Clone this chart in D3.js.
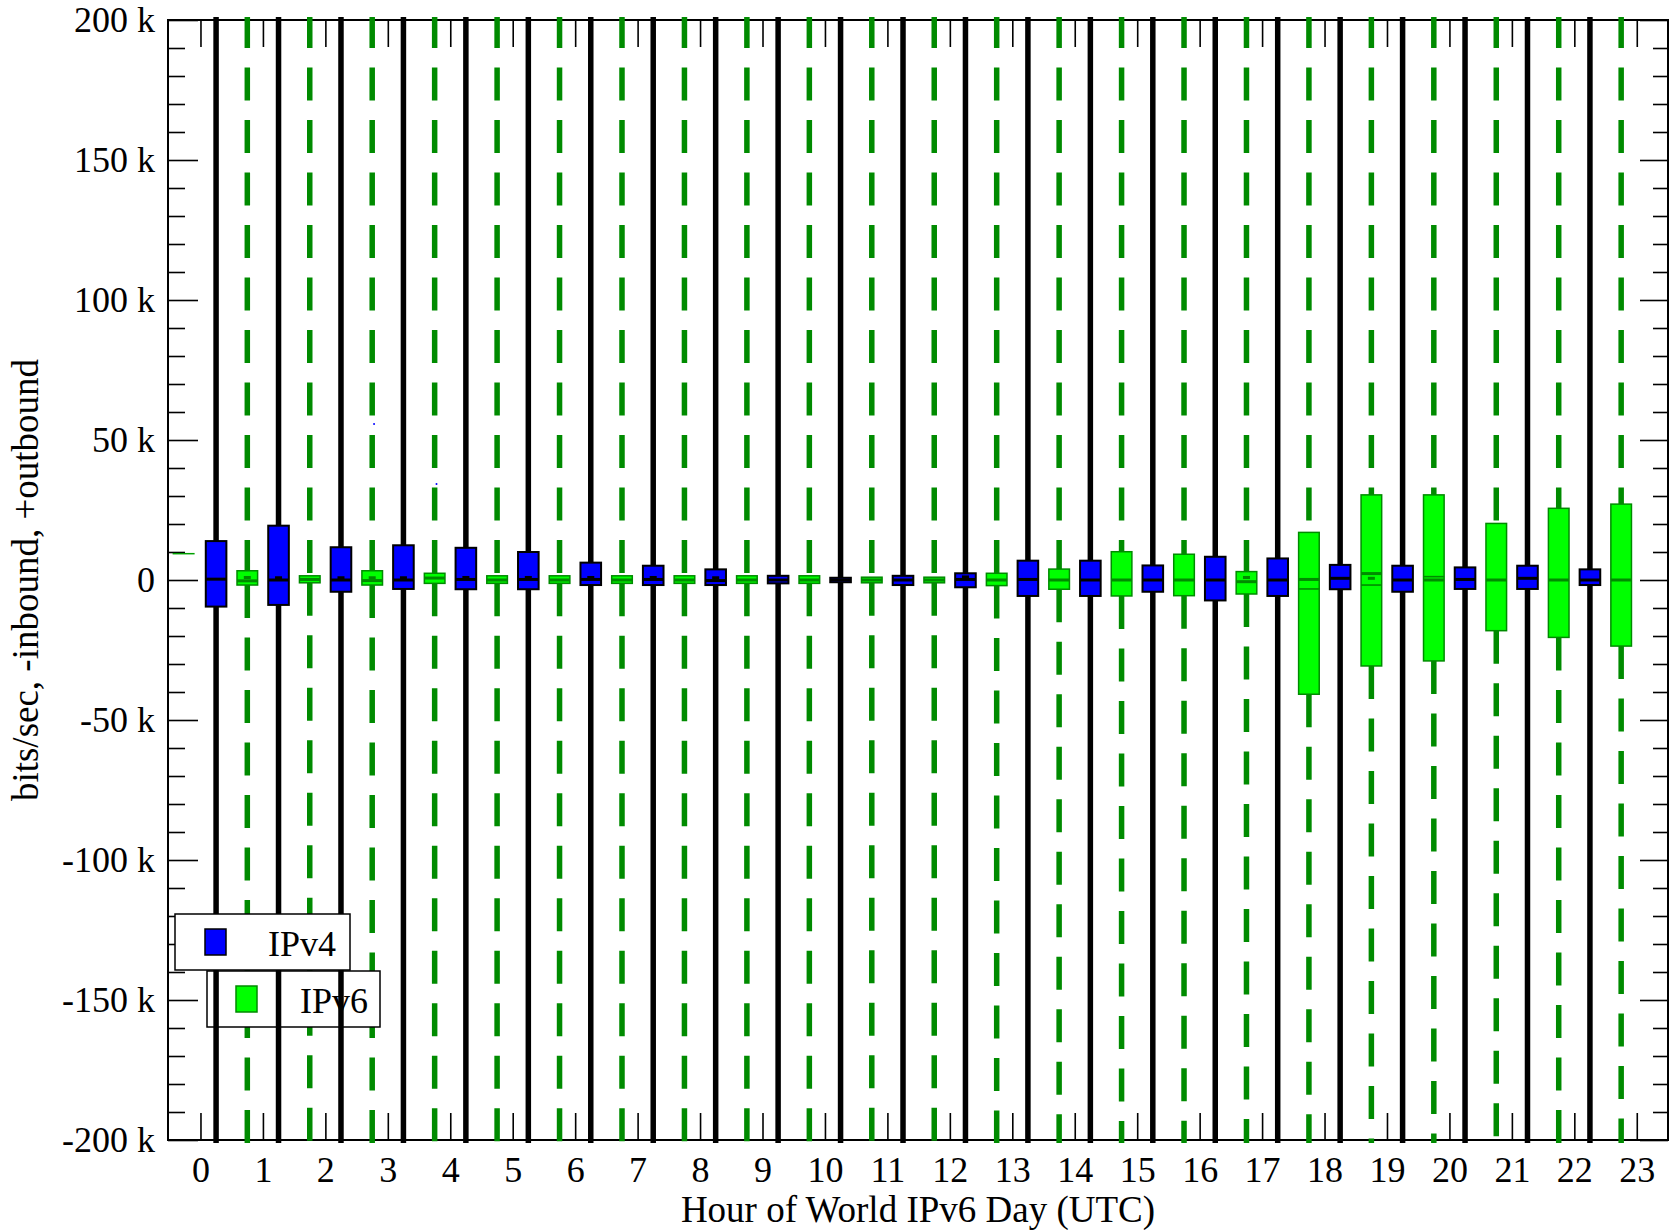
<!DOCTYPE html>
<html>
<head>
<meta charset="utf-8">
<script src="https://cdn.jsdelivr.net/npm/d3@7/dist/d3.min.js"></script>
<style>
  body { margin: 0; background: #fff; }
  svg { display: block; font-family: "Liberation Serif", "Times New Roman", serif; }
</style>
</head>
<body>
<div id="chart"></div>
<script>
// ---- data (values in k bits/sec) ----
const hours = [0, 1, 2, 3, 4, 5, 6, 7, 8, 9, 10, 11, 12, 13, 14, 15, 16, 17, 18, 19, 20, 21, 22];
const hourTicks = [0, 1, 2, 3, 4, 5, 6, 7, 8, 9, 10, 11, 12, 13, 14, 15, 16, 17, 18, 19, 20, 21, 22, 23];
const yMajorTicks = [-200, -150, -100, -50, 0, 50, 100, 150, 200];

// IPv4 boxes
const ipv4Q3     = [13.9, 19.4, 11.7, 12.4, 11.5, 10.0, 6.2, 5.1, 3.8, 1.5, 0.8, 1.5, 2.4, 6.9, 6.9, 5.2, 8.3, 7.7, 5.4, 5.1, 4.5, 5.1, 3.8];
const ipv4Q1     = [-9.5, -8.9, -4.2, -3.2, -3.3, -3.3, -1.8, -1.8, -1.8, -1.2, -0.8, -1.8, -2.6, -5.7, -5.7, -4.2, -7.3, -5.7, -3.3, -4.2, -3.2, -3.2, -1.8];
const ipv4Median = [0.3, 0, 0, 0, 0.2, 0.2, 0.2, 0.2, -0.2, 0, 0, 0, 0.2, 0.2, 0, 0, 0, 0, 0.6, 0, 0.2, 0.6, 0];
const ipv4Mean   = [null, 0.8, 0.8, 0.8, 0.9, 0.9, 0.9, 0.9, 0.8, null, null, null, 1.1, null, null, null, null, null, null, null, null, null, null];

// IPv6 boxes
const ipv6Q3     = [3.3, 1.5, 3.3, 2.4, 1.5, 1.5, 1.5, 1.5, 1.5, 1.5, 1.0, 1.0, 2.4, 3.9, 10.1, 9.2, 3.0, 17.0, 30.4, 30.4, 20.2, 25.6, 27.1];
const ipv6Q1     = [-1.8, -1.0, -1.8, -1.2, -1.2, -1.2, -1.2, -1.2, -1.2, -1.2, -1.0, -1.0, -2.0, -3.3, -5.7, -5.6, -5.0, -40.8, -30.7, -28.9, -18.1, -20.5, -23.6];
const ipv6Median = [-0.3, 0.2, -0.2, 0.7, 0, 0, 0, 0, 0, 0, 0, 0, 0, 0, 0, 0, -0.6, 0.2, 2.3, 0, 0, 0, 0];
const ipv6Mean   = [0.9, null, 0.8, null, null, null, null, null, null, null, null, null, null, null, null, null, 0.9, null, 0.6, null, null, null, null];
const ipv6Second = [null, null, null, null, null, null, null, null, null, null, null, null, null, null, null, null, null, -3.2, -1.8, 1.2, null, null, null];

// stray single marks
const blueDotHours = [2.78, 3.78];
const blueDotValues = [55.7, 34.3];
const greenMarkHours = [-0.27];
const greenMarkValues = [9.4];

const seriesNames = ['IPv4', 'IPv6'];

// ---- layout ----
const width = 1670, height = 1230;
const plot = { left: 168, right: 1668, top: 20, bottom: 1140 };
const fontSize = 36;
const titleSize = 37;
const dark = '#008b00';
const boxW = 0.33; // in hours

const x = d3.scaleLinear().domain([-0.52, 23.5]).range([plot.left, plot.right]);
const y = d3.scaleLinear().domain([-200, 200]).range([plot.bottom, plot.top]);
const yMinorTicks = d3.range(-200, 201, 10).filter(v => v % 50 !== 0);

const svg = d3.select('#chart').append('svg')
    .attr('width', width)
    .attr('height', height);

svg.append('defs').append('clipPath').attr('id', 'plotClip')
    .append('rect')
    .attr('x', plot.left)
    .attr('y', plot.top - 3)
    .attr('width', plot.right - plot.left)
    .attr('height', plot.bottom - plot.top + 6);

// ---- axes & frame ----
const axes = svg.append('g').attr('class', 'axes');

function styleTicks(g) {
    g.attr('font-family', null).attr('font-size', fontSize);
    g.select('.domain').remove();
    g.selectAll('.tick line').attr('stroke', '#000').attr('stroke-width', 1.6);
    g.selectAll('.tick text').attr('fill', '#000');
}

axes.append('g')
    .attr('transform', `translate(0,${plot.bottom})`)
    .call(d3.axisBottom(x).tickValues(hourTicks).tickSizeInner(-27).tickSizeOuter(0).tickPadding(16).tickFormat(d => d))
    .call(styleTicks);

axes.append('g')
    .attr('transform', `translate(0,${plot.top})`)
    .call(d3.axisTop(x).tickValues(hourTicks).tickSizeInner(-27).tickSizeOuter(0).tickFormat(''))
    .call(styleTicks);

axes.append('g')
    .attr('transform', `translate(${plot.left},0)`)
    .call(d3.axisLeft(y).tickValues(yMajorTicks).tickSizeInner(-30).tickSizeOuter(0).tickPadding(13)
        .tickFormat(d => d === 0 ? '0' : `${d} k`))
    .call(styleTicks);

axes.append('g')
    .attr('transform', `translate(${plot.left},0)`)
    .call(d3.axisLeft(y).tickValues(yMinorTicks).tickSizeInner(-17).tickSizeOuter(0).tickFormat(''))
    .call(styleTicks);

axes.append('g')
    .attr('transform', `translate(${plot.right},0)`)
    .call(d3.axisRight(y).tickValues(yMajorTicks).tickSizeInner(-28).tickSizeOuter(0).tickFormat(''))
    .call(styleTicks);

axes.append('g')
    .attr('transform', `translate(${plot.right},0)`)
    .call(d3.axisRight(y).tickValues(yMinorTicks).tickSizeInner(-15).tickSizeOuter(0).tickFormat(''))
    .call(styleTicks);

axes.append('rect')
    .attr('x', plot.left)
    .attr('y', plot.top)
    .attr('width', plot.right - plot.left)
    .attr('height', plot.bottom - plot.top)
    .attr('fill', 'none')
    .attr('stroke', '#000')
    .attr('stroke-width', 2);

// axis titles
svg.append('text')
    .attr('x', (plot.left + plot.right) / 2)
    .attr('y', 1222)
    .attr('text-anchor', 'middle')
    .attr('font-size', titleSize)
    .text('Hour of World IPv6 Day (UTC)');

svg.append('text')
    .attr('transform', `translate(38,${y(0)}) rotate(-90)`)
    .attr('text-anchor', 'middle')
    .attr('font-size', titleSize)
    .text('bits/sec, -inbound, +outbound');

// ---- series ----
function toRows(q3, q1, med, mean, second) {
    return hours.map((h, i) => ({
        hour: h, q3: q3[i], q1: q1[i], med: med[i],
        mean: mean ? mean[i] : null,
        second: second ? second[i] : null
    }));
}

const ipv4 = toRows(ipv4Q3, ipv4Q1, ipv4Median, ipv4Mean, null);
const ipv6 = toRows(ipv6Q3, ipv6Q1, ipv6Median, ipv6Mean, ipv6Second);

function drawBoxes(g, rows, offset, st) {
    const cx = d => x(d.hour + offset);
    const half = (x(boxW) - x(0)) / 2;

    // upper and lower whiskers run past the visible range
    g.selectAll('.wu').data(rows).enter().append('line')
        .attr('x1', cx).attr('x2', cx)
        .attr('y1', plot.top - 5).attr('y2', d => y(d.q3))
        .attr('stroke', st.whisker).attr('stroke-width', 5.5)
        .attr('stroke-dasharray', st.dash);

    g.selectAll('.wl').data(rows).enter().append('line')
        .attr('x1', cx).attr('x2', cx)
        .attr('y1', d => y(d.q1)).attr('y2', plot.bottom + 10)
        .attr('stroke', st.whisker).attr('stroke-width', 5.5)
        .attr('stroke-dasharray', st.dash);

    g.selectAll('.box').data(rows).enter().append('rect')
        .attr('x', d => cx(d) - half)
        .attr('y', d => y(d.q3))
        .attr('width', half * 2)
        .attr('height', d => y(d.q1) - y(d.q3))
        .attr('fill', st.fill)
        .attr('stroke', st.stroke)
        .attr('stroke-width', st.strokeWidth);

    g.selectAll('.med').data(rows).enter().append('line')
        .attr('x1', d => cx(d) - half).attr('x2', d => cx(d) + half)
        .attr('y1', d => y(d.med)).attr('y2', d => y(d.med))
        .attr('stroke', st.stroke).attr('stroke-width', 3);

    g.selectAll('.second').data(rows.filter(d => d.second !== null)).enter().append('line')
        .attr('x1', d => cx(d) - half).attr('x2', d => cx(d) + half)
        .attr('y1', d => y(d.second)).attr('y2', d => y(d.second))
        .attr('stroke', st.stroke).attr('stroke-width', 1.6);

    g.selectAll('.mean').data(rows.filter(d => d.mean !== null)).enter().append('rect')
        .attr('x', d => cx(d) - 3.5)
        .attr('y', d => y(d.mean) - 1.5)
        .attr('width', 7).attr('height', 3)
        .attr('fill', st.stroke);
}

function drawLegend(name, fill, stroke, bx, by, bw, bh, sx, sy, tx) {
    const lg = svg.append('g').attr('class', 'legend');
    lg.append('rect')
        .attr('x', bx).attr('y', by).attr('width', bw).attr('height', bh)
        .attr('fill', '#fff').attr('stroke', '#000').attr('stroke-width', 1.5);
    lg.append('rect')
        .attr('x', sx).attr('y', sy).attr('width', 21).attr('height', 26)
        .attr('fill', fill).attr('stroke', stroke).attr('stroke-width', 1.5);
    lg.append('text')
        .attr('x', tx).attr('y', sy + 27)
        .attr('font-size', fontSize)
        .text(name);
}

// IPv6 series first, then its legend, then IPv4 on top, then IPv4 legend
const g6 = svg.append('g').attr('clip-path', 'url(#plotClip)');
drawBoxes(g6, ipv6, 0.75, {
    whisker: dark, dash: '33,19.5', fill: '#00ff00', stroke: dark, strokeWidth: 1.5
});

g6.selectAll('.gmark').data(greenMarkHours).enter().append('line')
    .attr('x1', d => x(d) - 11).attr('x2', d => x(d) + 11)
    .attr('y1', (d, i) => y(greenMarkValues[i])).attr('y2', (d, i) => y(greenMarkValues[i]))
    .attr('stroke', '#00a000').attr('stroke-width', 1.5);

drawLegend(seriesNames[1], '#00ff00', dark, 207, 971, 173, 56, 236, 986, 300);

const g4 = svg.append('g').attr('clip-path', 'url(#plotClip)');
drawBoxes(g4, ipv4, 0.25, {
    whisker: '#000', dash: null, fill: '#0000ff', stroke: '#000', strokeWidth: 2
});

g4.selectAll('.bdot').data(blueDotHours).enter().append('circle')
    .attr('cx', d => x(d))
    .attr('cy', (d, i) => y(blueDotValues[i]))
    .attr('r', 1)
    .attr('fill', '#0000ff');

drawLegend(seriesNames[0], '#0000ff', '#000', 175, 914, 175, 56, 205, 929, 268);
</script>
</body>
</html>
